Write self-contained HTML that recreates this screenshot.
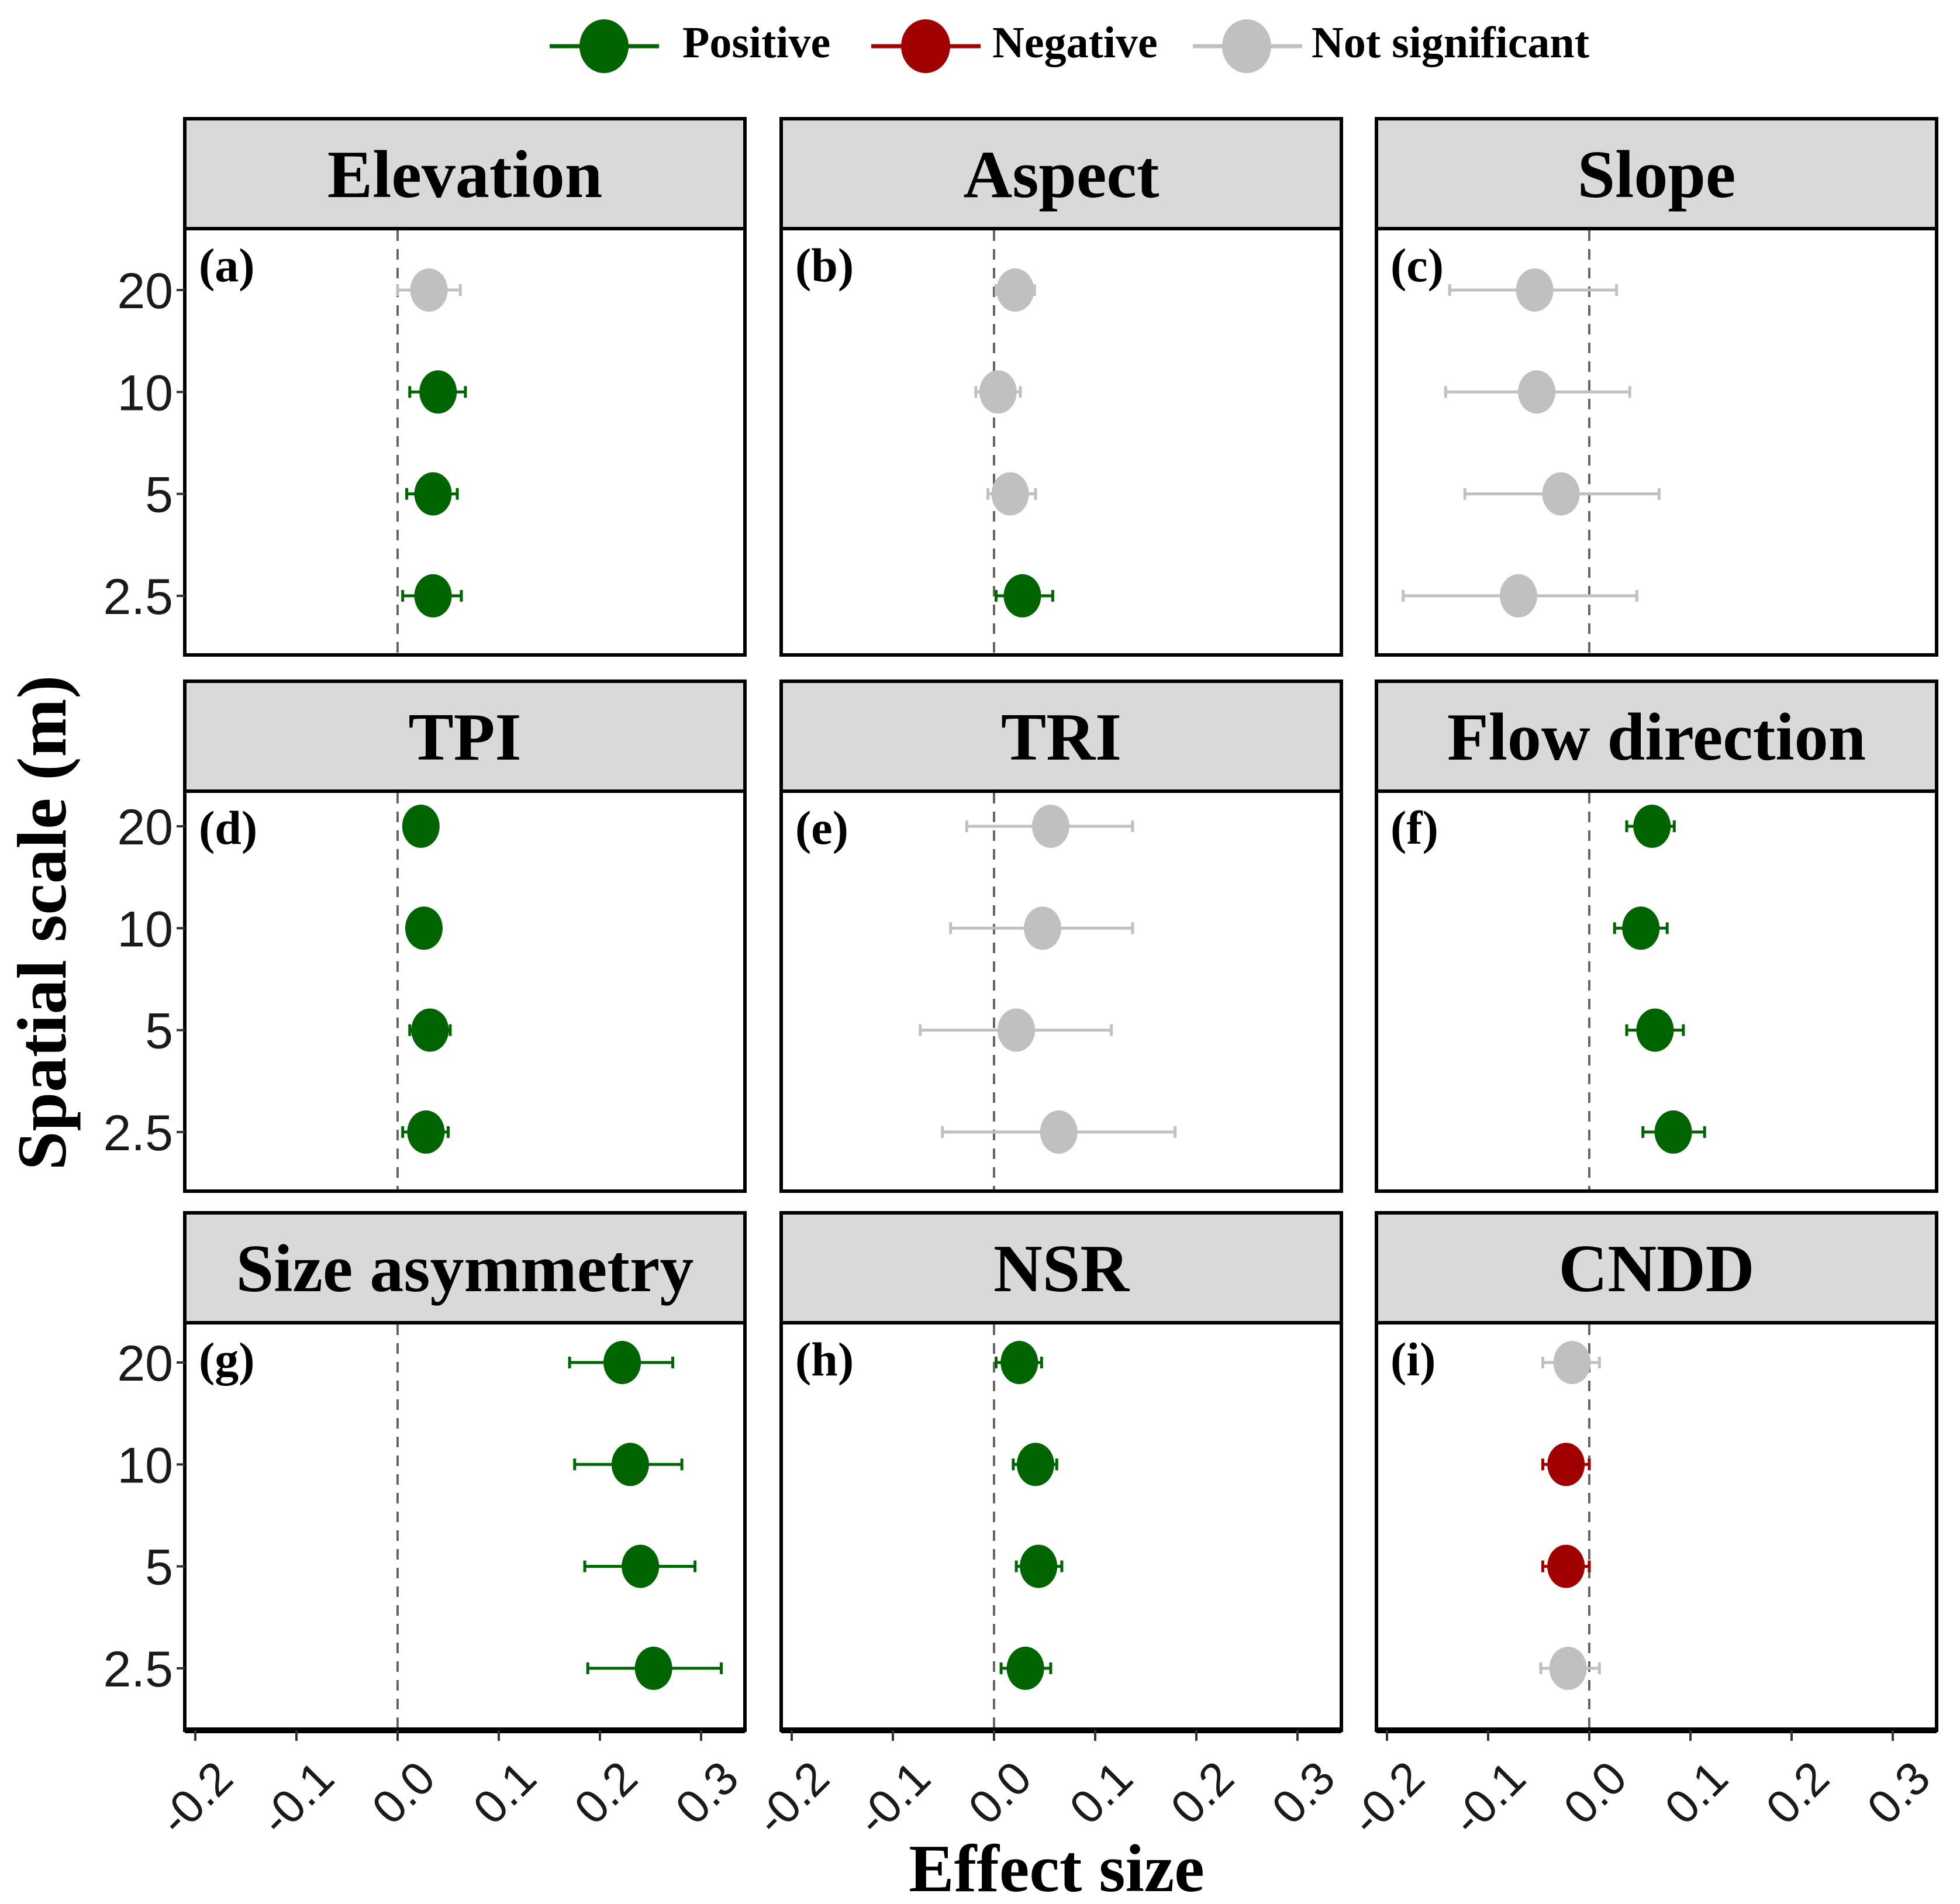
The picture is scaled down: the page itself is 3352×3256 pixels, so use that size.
<!DOCTYPE html>
<html><head><meta charset="utf-8"><style>
html,body{margin:0;padding:0;background:#fff;}
svg{display:block;}
</style></head><body>
<svg id="fig" xmlns="http://www.w3.org/2000/svg" width="3352" height="3256" viewBox="0 0 3352 3256">
<rect x="0" y="0" width="3352" height="3256" fill="#fff"/>
<g>
  <g>
    <line x1="940" y1="79" x2="1127" y2="79" stroke="#006400" stroke-width="7"/>
    <ellipse cx="1033" cy="79" rx="42" ry="46" fill="#006400"/>
    <text x="1167" y="98" font-family="Liberation Serif, serif" font-weight="bold" font-size="76">Positive</text>
  </g>
  <g>
    <line x1="1490" y1="79" x2="1677" y2="79" stroke="#a00000" stroke-width="7"/>
    <ellipse cx="1583" cy="79" rx="42" ry="46" fill="#a00000"/>
    <text x="1697" y="98" font-family="Liberation Serif, serif" font-weight="bold" font-size="76">Negative</text>
  </g>
  <g>
    <line x1="2040" y1="79" x2="2227" y2="79" stroke="#c0c0c0" stroke-width="7"/>
    <ellipse cx="2132" cy="79" rx="42" ry="46" fill="#c0c0c0"/>
    <text x="2243" y="98" font-family="Liberation Serif, serif" font-weight="bold" font-size="76">Not significant</text>
  </g>
</g>
<text transform="translate(112,1578) rotate(-90)" text-anchor="middle" font-family="Liberation Serif, serif" font-weight="bold" font-size="120">Spatial scale (m)</text>
<text x="1807" y="3234" text-anchor="middle" font-family="Liberation Serif, serif" font-weight="bold" font-size="116">Effect size</text>
<g id="panels"></g>
</svg>
<script>
var panelTitles = ["Elevation","Aspect","Slope","TPI","TRI","Flow direction","Size asymmetry","NSR","CNDD"];
var panelLetters = ["(a)","(b)","(c)","(d)","(e)","(f)","(g)","(h)","(i)"];
var scaleLabels = ["20","10","5","2.5"];
var xTicks = [-0.2,-0.1,0.0,0.1,0.2,0.3];
var xTickLabels = ["-0.2","-0.1","0.0","0.1","0.2","0.3"];
// estimates per panel, ordered 20,10,5,2.5
var estimates = [
  [0.031,0.040,0.035,0.035],
  [0.021,0.004,0.016,0.028],
  [-0.054,-0.052,-0.028,-0.070],
  [0.023,0.026,0.032,0.028],
  [0.056,0.048,0.022,0.064],
  [0.062,0.051,0.065,0.083],
  [0.222,0.230,0.240,0.253],
  [0.025,0.041,0.044,0.031],
  [-0.017,-0.023,-0.023,-0.021]
];
var lowers = [
  [0.000,0.012,0.009,0.005],
  [0.002,-0.018,-0.006,0.002],
  [-0.138,-0.142,-0.123,-0.184],
  [0.012,0.015,0.012,0.005],
  [-0.027,-0.043,-0.073,-0.051],
  [0.037,0.025,0.037,0.053],
  [0.170,0.175,0.185,0.188],
  [0.002,0.019,0.022,0.007],
  [-0.046,-0.046,-0.046,-0.048]
];
var uppers = [
  [0.062,0.067,0.059,0.063],
  [0.040,0.026,0.041,0.058],
  [0.027,0.040,0.069,0.047],
  [0.034,0.037,0.052,0.050],
  [0.137,0.137,0.116,0.179],
  [0.084,0.077,0.093,0.114],
  [0.272,0.281,0.294,0.320],
  [0.047,0.062,0.067,0.056],
  [0.010,0.000,0.000,0.010]
];
// significance: 1 positive, -1 negative, 0 not significant
var significance = [
  [0,1,1,1],
  [0,0,0,1],
  [0,0,0,0],
  [1,1,1,1],
  [0,0,0,0],
  [1,1,1,1],
  [1,1,1,1],
  [1,1,1,1],
  [0,-1,-1,0]
];

var NS = "http://www.w3.org/2000/svg";
var root = document.getElementById("panels");
var colLeft = [316,1336,2354], panelW = 958;
var rowTop = [203,1165,2074], stripH = 188;
var rowBottom = [1120,2037,2959];
var rowFirstY = [496,1413,2330], stepY = 174.3;
var unitPx = 1730;
var zeroOffset = 364;
var colors = {"1":"#006400","-1":"#a00000","0":"#c0c0c0"};
function mk(tag, attrs, parent){ var e=document.createElementNS(NS,tag); for(var k in attrs) e.setAttribute(k,attrs[k]); (parent||root).appendChild(e); return e; }

for (var p=0;p<9;p++){
  var c=p%3, r=Math.floor(p/3);
  var L=colLeft[c], T=rowTop[r], B=rowBottom[r], bodyT=T+stripH, bodyH=B-bodyT;
  var xs=function(v){return L+zeroOffset+v*unitPx;};
  var fy=rowFirstY[r];
  var ys=function(i){return fy+i*stepY;};
  var g=mk("g",{});
  
  
  var strip=mk("rect",{x:L,y:T,width:panelW,height:stripH,fill:"#d9d9d9",stroke:"#000","stroke-width":6},g);
  
  
  var st=mk("text",{x:L+panelW/2,y:T+134,"text-anchor":"middle","font-family":"Liberation Serif, serif","font-weight":"bold","font-size":116},g);
  st.textContent=panelTitles[p];
  
  
  var body=mk("rect",{x:L,y:bodyT,width:panelW,height:bodyH,fill:"#fff",stroke:"#000","stroke-width":6},g);
  
  
  var zl=mk("line",{x1:xs(0),x2:xs(0),y1:bodyT+3,y2:B-3,stroke:"#666","stroke-width":4,"stroke-dasharray":"18,14"},g);
  
  
  var lt=mk("text",{x:L+24,y:bodyT+90,"font-family":"Liberation Serif, serif","font-weight":"bold","font-size":82},g);
  lt.textContent=panelLetters[p];
  
  
  if(c===0){
    for(var i=0;i<4;i++){
      var tk=mk("line",{x1:L-14,x2:L,y1:ys(i),y2:ys(i),stroke:"#333","stroke-width":4},g);
      
      
      var tl=mk("text",{x:L-20,y:ys(i)+31,"text-anchor":"end","font-family":"Liberation Sans, sans-serif","font-size":86,fill:"#1a1a1a"},g);
      tl.textContent=scaleLabels[i];
      
      
    }
  }
  if(r===2){
    var ax=mk("line",{x1:L,x2:L+panelW,y1:B,y2:B,stroke:"#000","stroke-width":10},g);
    
    
    for(var t=0;t<xTicks.length;t++){
      var tx=xs(xTicks[t]);
      var xt=mk("line",{x1:tx,x2:tx,y1:B,y2:B+18,stroke:"#333","stroke-width":4},g);
      
      
      var xl=mk("text",{transform:"translate("+(tx+28)+","+(B+46)+") rotate(-45)","text-anchor":"end","font-family":"Liberation Sans, sans-serif","font-size":80,fill:"#1a1a1a","dominant-baseline":"hanging"},g);
      xl.textContent=xTickLabels[t];
      
      
    }
  }
  for(var i=0;i<4;i++){
    var col=colors[String(significance[p][i])];
    var y=ys(i), x1=xs(lowers[p][i]), x2=xs(uppers[p][i]);
    var eg=mk("g",{},g);
    
    
    var eb=mk("line",{x1:x1,x2:x2,y1:y,y2:y,stroke:col,"stroke-width":5},eg);
    
    
    var c1=mk("line",{x1:x1,x2:x1,y1:y-10,y2:y+10,stroke:col,"stroke-width":5},eg);
    
    
    var c2=mk("line",{x1:x2,x2:x2,y1:y-10,y2:y+10,stroke:col,"stroke-width":5},eg);
    
    
    var pt=mk("ellipse",{cx:xs(estimates[p][i]),cy:y,rx:32,ry:37,fill:col},eg);
    
    
  }
}
</script>
</body></html>
